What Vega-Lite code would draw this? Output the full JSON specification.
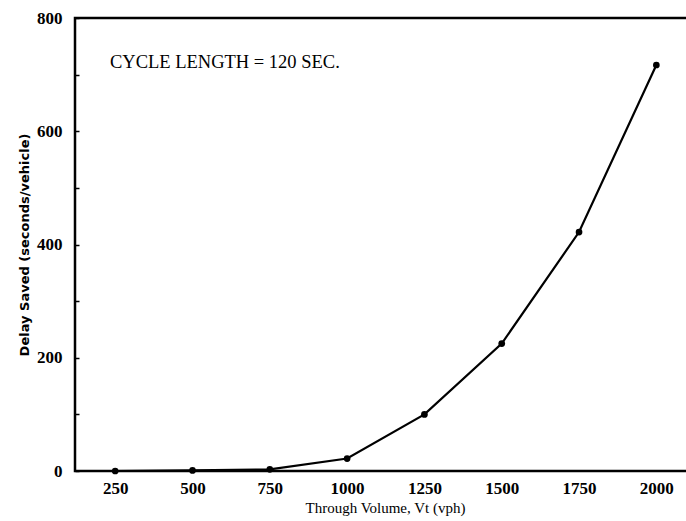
{
  "$schema": "https://vega.github.io/schema/vega-lite/v6.json",
  "width": 620,
  "height": 453,
  "autosize": {"type": "none"},
  "padding": {"left": 75, "top": 18, "right": 0, "bottom": 50},
  "background": "white",
  "config": {
    "view": {"stroke": "black", "strokeWidth": 2.5},
    "font": "Liberation Serif"
  },
  "datasets": {
    "curve": [
      {"volume": 250, "delay": 0},
      {"volume": 500, "delay": 1},
      {"volume": 750, "delay": 3},
      {"volume": 1000, "delay": 22},
      {"volume": 1250, "delay": 100},
      {"volume": 1500, "delay": 225},
      {"volume": 1750, "delay": 422},
      {"volume": 2000, "delay": 717}
    ],
    "note": [
      {"volume": 233, "delay": 722, "label": "CYCLE LENGTH = 120 SEC."}
    ]
  },
  "layer": [
    {
      "data": {"name": "curve"},
      "mark": {"type": "line", "color": "black", "strokeWidth": 2.2, "point": {"filled": true, "color": "black", "size": 45}},
      "encoding": {
        "x": {
          "field": "volume", "type": "quantitative",
          "scale": {"domain": [120, 2125], "nice": false, "zero": false},
          "axis": {
            "title": "Through Volume, Vt (vph)",
            "values": [250, 500, 750, 1000, 1250, 1500, 1750, 2000],
            "format": "d",
            "domain": false, "ticks": false, "grid": false,
            "labelFont": "Liberation Serif", "labelFontWeight": "bold", "labelFontSize": 17, "labelColor": "black",
            "labelPadding": 9,
            "titleFont": "Liberation Serif", "titleFontWeight": "normal", "titleFontSize": 15, "titleColor": "black",
            "titlePadding": 4
          }
        },
        "y": {
          "field": "delay", "type": "quantitative",
          "scale": {"domain": [0, 800], "nice": false},
          "axis": {
            "title": "Delay Saved (seconds/vehicle)",
            "values": [0, 100, 200, 300, 400, 500, 600, 700, 800],
            "labelExpr": "datum.value % 200 == 0 ? datum.label : ''",
            "domain": false, "grid": false,
            "ticks": true, "tickSize": -4, "tickColor": "black", "tickWidth": 1.5,
            "labelFont": "Liberation Serif", "labelFontWeight": "bold", "labelFontSize": 17, "labelColor": "black",
            "labelPadding": 17,
            "titleFont": "DejaVu Sans", "titleFontWeight": "bold", "titleFontSize": 13, "titleColor": "black",
            "titlePadding": 5
          }
        }
      }
    },
    {
      "data": {"name": "note"},
      "mark": {"type": "text", "align": "left", "baseline": "middle", "font": "Liberation Serif", "fontSize": 18.5, "color": "black"},
      "encoding": {
        "x": {"field": "volume", "type": "quantitative"},
        "y": {"field": "delay", "type": "quantitative"},
        "text": {"field": "label"}
      }
    }
  ]
}
